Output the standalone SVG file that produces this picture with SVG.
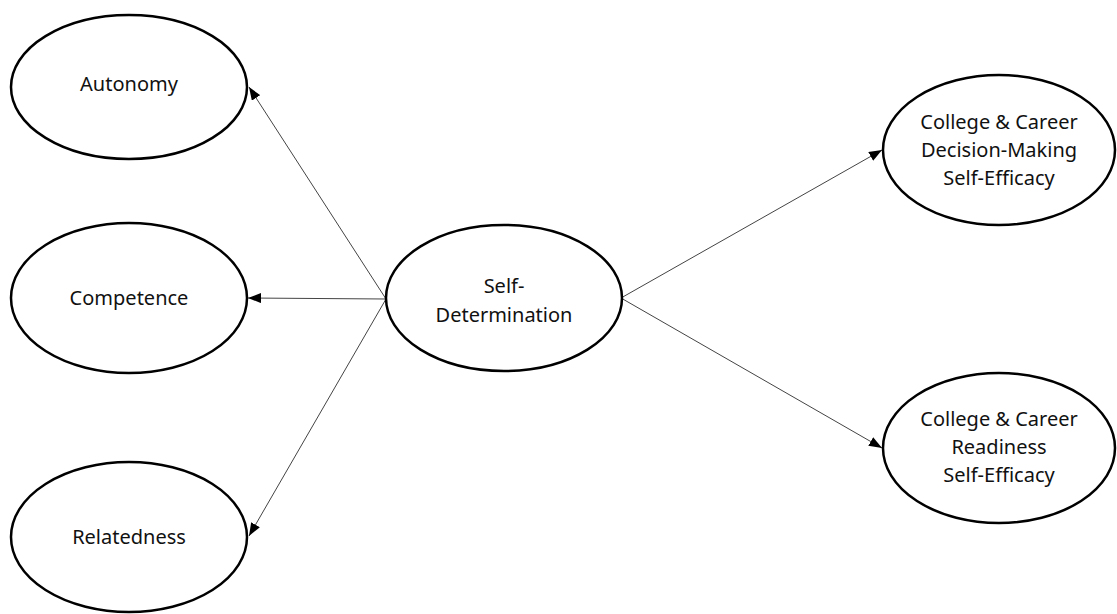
<svg xmlns="http://www.w3.org/2000/svg" width="1117" height="614" viewBox="0 0 1117 614">
<style>
.node ellipse{fill:#fff;stroke:#000;stroke-width:2.5}
.node text{font-family:"Noto Sans","Open Sans",sans-serif;font-size:20px;fill:#111;text-anchor:middle}
.conn line{stroke:#444;stroke-width:1}
</style>
<defs>
<marker id="ah" viewBox="0 0 13 10" refX="13" refY="5" markerWidth="13" markerHeight="10" markerUnits="userSpaceOnUse" orient="auto">
<path d="M0,0 L13,5 L0,10 Z" fill="#000"/>
</marker>
</defs>
<rect width="1117" height="614" fill="#fff"/>
<g id="connectors" class="conn">
<line x1="386" y1="299" x2="249" y2="87" marker-end="url(#ah)"/>
<line x1="386" y1="299" x2="248" y2="298" marker-end="url(#ah)"/>
<line x1="386" y1="299" x2="249" y2="536" marker-end="url(#ah)"/>
<line x1="621" y1="298" x2="882" y2="150" marker-end="url(#ah)"/>
<line x1="621" y1="298" x2="882" y2="448" marker-end="url(#ah)"/>
</g>
<g id="autonomy" class="node">
<ellipse cx="129" cy="87" rx="118" ry="72"/>
<text x="129" y="91">Autonomy</text>
</g>
<g id="competence" class="node">
<ellipse cx="129" cy="298" rx="118" ry="75"/>
<text x="129" y="305">Competence</text>
</g>
<g id="relatedness" class="node">
<ellipse cx="129" cy="537" rx="118" ry="75"/>
<text x="129" y="544">Relatedness</text>
</g>
<g id="self-determination" class="node">
<ellipse cx="504" cy="298" rx="118" ry="73"/>
<text x="504" y="293">Self-</text>
<text x="504" y="322">Determination</text>
</g>
<g id="decision-making" class="node">
<ellipse cx="999" cy="150" rx="116" ry="75"/>
<text x="999" y="129">College &amp; Career</text>
<text x="999" y="157">Decision-Making</text>
<text x="999" y="185">Self-Efficacy</text>
</g>
<g id="readiness" class="node">
<ellipse cx="999" cy="448" rx="116" ry="75"/>
<text x="999" y="426">College &amp; Career</text>
<text x="999" y="454">Readiness</text>
<text x="999" y="482">Self-Efficacy</text>
</g>
</svg>
